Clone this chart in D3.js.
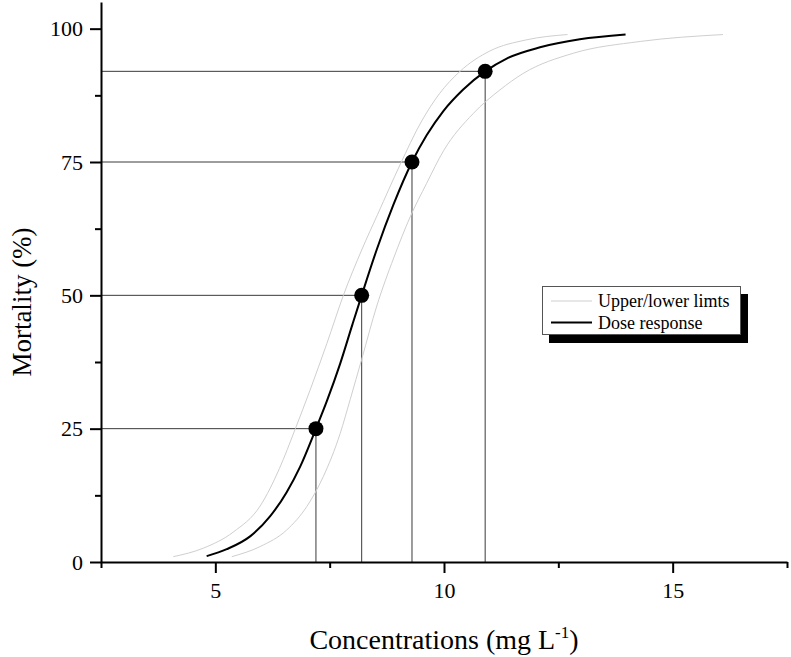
<!DOCTYPE html>
<html>
<head>
<meta charset="utf-8">
<script src="https://cdn.jsdelivr.net/npm/d3@7"></script>
<style>
  body { margin: 0; background: #fff; }
  text { font-family: "Liberation Serif", "Times New Roman", serif; fill: #000; }
</style>
</head>
<body>
<script>
// dose response curve (concentration, mortality %)
const doseX = [4.81, 5.25, 5.76, 6.2, 6.56, 6.85, 7.2, 7.44, 7.73, 8.0, 8.2, 8.53, 8.89, 9.3, 9.62, 9.99, 10.42, 10.9, 11.37, 12.1, 12.97, 13.97];
const doseY = [1.1, 2.4, 4.8, 8.6, 13.1, 17.8, 25, 30.2, 37.2, 44.6, 50, 58.6, 66.9, 75, 80, 84.6, 88.6, 92, 94.4, 96.5, 98.0, 98.9];

// upper limit (left gray curve)
const upperX = [4.08, 4.74, 5.39, 5.98, 6.4, 6.75, 7.07, 7.44, 7.8, 8.2, 8.55, 9.04, 9.5, 9.9, 10.35, 11.0, 11.8, 12.7];
const upperY = [1.0, 2.6, 5.6, 10.5, 17.5, 25, 32.2, 41, 50, 58.5, 65.2, 74.5, 82.5, 87.8, 92.0, 95.8, 97.9, 98.9];

// lower limit (right gray curve)
const lowerX = [5.36, 5.98, 6.56, 7.0, 7.36, 7.73, 7.95, 8.2, 8.53, 8.9, 9.26, 9.62, 9.99, 10.64, 11.22, 11.73, 12.83, 14.29, 16.1];
const lowerY = [1.0, 2.9, 6.0, 10.4, 16.0, 24.1, 30.5, 38, 48, 57, 64.7, 71, 77.1, 84.1, 88.5, 91.6, 95.4, 97.6, 98.9];

// marked points (LC25, LC50, LC75, LC92)
const markX = [7.2, 8.2, 9.3, 10.9];
const markY = [25, 50, 75, 92];

const xMajor = [5, 10, 15];
const xMinor = [2.5, 7.5, 12.5, 17.5];
const yMajor = [0, 25, 50, 75, 100];
const yMinor = [12.5, 37.5, 62.5, 87.5];

const legendLabels = ["Upper/lower limts", "Dose response"];

const W = 791, H = 657;
const svg = d3.select("body").append("svg")
    .attr("width", W)
    .attr("height", H);

const x = d3.scaleLinear().domain([2.5, 17.5]).range([101, 787]);
const y = d3.scaleLinear().domain([0, 105]).range([562, 2]);

const line = d3.line()
    .x(d => x(d[0]))
    .y(d => y(d[1]))
    .curve(d3.curveMonotoneX);

const zip = (a, b) => a.map((v, i) => [v, b[i]]);

// guide lines from the axes to each point
const guides = svg.append("g").attr("stroke", "#3a3a3a").attr("stroke-width", 1);
markX.forEach((mx, i) => {
    guides.append("line")
        .attr("x1", x(2.5)).attr("x2", x(mx))
        .attr("y1", y(markY[i])).attr("y2", y(markY[i]));
    guides.append("line")
        .attr("x1", x(mx)).attr("x2", x(mx))
        .attr("y1", y(markY[i])).attr("y2", y(0));
});

// limits
[zip(upperX, upperY), zip(lowerX, lowerY)].forEach(pts => {
    svg.append("path")
        .attr("d", line(pts))
        .attr("fill", "none")
        .attr("stroke", "#cfcfcf")
        .attr("stroke-width", 1);
});

svg.append("path")
    .attr("d", line(zip(doseX, doseY)))
    .attr("fill", "none")
    .attr("stroke", "#000")
    .attr("stroke-width", 2);

svg.selectAll(".pt")
    .data(zip(markX, markY))
    .enter()
    .append("circle")
    .attr("class", "pt")
    .attr("cx", d => x(d[0]))
    .attr("cy", d => y(d[1]))
    .attr("r", 7.5)
    .attr("fill", "#000");

// axes
svg.append("g")
    .attr("transform", `translate(0,${y(0)})`)
    .call(d3.axisBottom(x).tickValues(xMajor).tickSize(11).tickSizeOuter(0).tickPadding(9).tickFormat(d3.format("d")));
svg.append("g")
    .attr("transform", `translate(0,${y(0)})`)
    .call(d3.axisBottom(x).tickValues(xMinor).tickSize(6).tickFormat(""))
    .select(".domain").remove();

svg.append("g")
    .attr("transform", `translate(${x(2.5)},0)`)
    .call(d3.axisLeft(y).tickValues(yMajor).tickSize(11).tickSizeOuter(0).tickPadding(7).tickFormat(d3.format("d")));
svg.append("g")
    .attr("transform", `translate(${x(2.5)},0)`)
    .call(d3.axisLeft(y).tickValues(yMinor).tickSize(6).tickFormat(""))
    .select(".domain").remove();

svg.selectAll(".domain").attr("stroke", "#000").attr("stroke-width", 2);
svg.selectAll(".tick line").attr("stroke", "#000").attr("stroke-width", 2);
svg.selectAll(".tick text")
    .attr("font-family", "Liberation Serif, Times New Roman, serif")
    .attr("font-size", 22)
    .attr("fill", "#000");

// axis titles
const xt = svg.append("text")
    .attr("x", 444)
    .attr("y", 649)
    .attr("text-anchor", "middle")
    .attr("font-size", 28);
xt.append("tspan").text("Concentrations (mg L");
xt.append("tspan").attr("font-size", 17).attr("dy", -11).text("-1");
xt.append("tspan").attr("dy", 11).text(")");

svg.append("text")
    .attr("transform", "translate(31,302) rotate(-90)")
    .attr("text-anchor", "middle")
    .attr("font-size", 27)
    .text("Mortality (%)");

// legend
const lg = svg.append("g").attr("transform", "translate(542,286)");
lg.append("rect")
    .attr("x", 7).attr("y", 8)
    .attr("width", 199).attr("height", 49)
    .attr("fill", "#000");
lg.append("rect")
    .attr("x", 0.5).attr("y", 0.5)
    .attr("width", 198).attr("height", 48)
    .attr("fill", "#fff")
    .attr("stroke", "#555")
    .attr("stroke-width", 1);
const legendStyles = [{ c: "#cfcfcf", w: 1 }, { c: "#000", w: 2 }];
legendLabels.forEach((t, i) => {
    const ly = 15 + i * 21.5;
    lg.append("line")
        .attr("x1", 9).attr("x2", 50)
        .attr("y1", ly).attr("y2", ly)
        .attr("stroke", legendStyles[i].c)
        .attr("stroke-width", legendStyles[i].w);
    lg.append("text")
        .attr("x", 56)
        .attr("y", ly + 6)
        .attr("font-size", 18)
        .text(t);
});
</script>
</body>
</html>
